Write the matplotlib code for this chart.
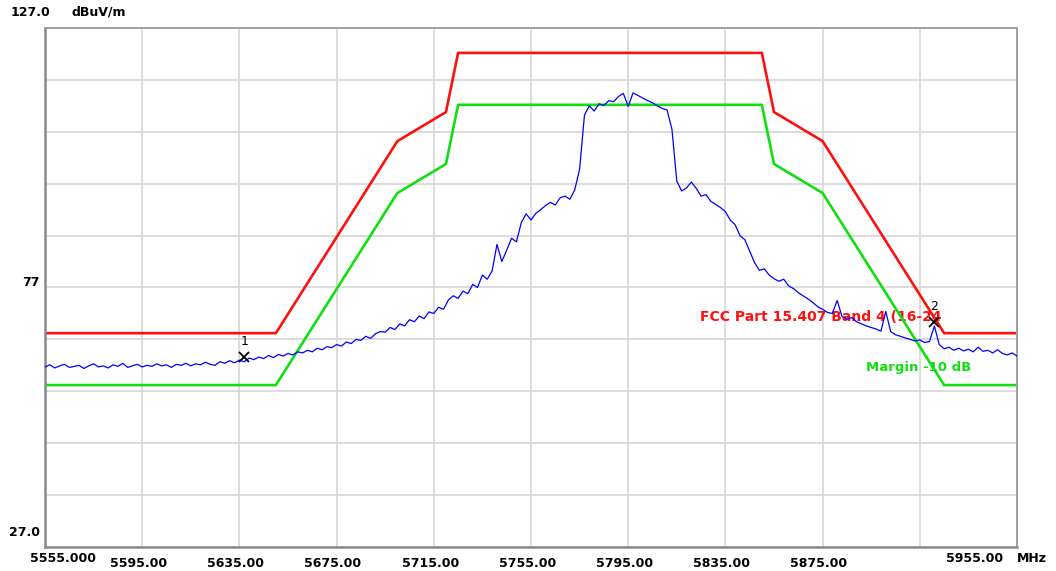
import numpy as np
import matplotlib
matplotlib.use('Agg')
import matplotlib.pyplot as plt

# trace sampled every 2 MHz
freq = np.arange(5555, 5956, 2)
level = [
    61.7, 62.1, 61.5, 61.9, 62.2, 61.6, 61.8, 62.0, 61.4, 61.9,
    62.3, 61.7, 61.9, 61.5, 62.1, 61.8, 62.4, 61.6, 61.9, 62.2,
    61.7, 62.0, 61.8, 62.3, 61.9, 62.1, 61.6, 62.2, 62.0, 62.4,
    61.9, 62.3, 62.1, 62.6, 62.2, 62.0, 62.7, 62.4, 62.9, 62.5,
    63.0, 62.7, 63.4, 63.1, 63.6, 63.3, 63.9, 63.5, 64.1, 63.8,
    64.3, 64.0, 64.6, 64.4, 64.9, 64.6, 65.3, 65.0, 65.6, 65.4,
    66.0, 65.7, 66.5, 66.2, 67.0, 66.8, 67.6, 67.2, 68.1, 68.5,
    68.4, 69.3, 68.9, 70.0, 69.6, 70.8, 70.4, 71.5, 71.0, 72.3,
    72.0, 73.2, 72.8, 74.6, 75.4, 74.9, 76.3, 75.8, 77.6, 77.0,
    79.4, 78.6, 80.2,
    85.3, 82.0, 84.2, 86.5, 85.8, 89.5, 91.2, 90.0, 91.3, 92.0,
    92.8, 93.4, 92.9, 94.3, 94.6, 94.0, 95.8,
    99.8, 110.2, 112.0, 111.0, 112.4, 112.1, 113.0, 112.8, 113.8, 114.4,
    111.9, 114.5, 114.0, 113.5, 113.0, 112.6, 112.0, 111.5, 111.2, 107.5,
    97.5, 95.6, 96.2, 97.3, 96.1, 94.6, 94.9, 93.6, 93.0, 92.4,
    91.6, 90.0, 89.1, 87.0, 86.2, 84.0, 81.8, 80.3, 80.6, 79.4,
    78.7, 78.2, 78.6, 77.3, 76.8, 76.0, 75.4, 74.8, 74.1, 73.3,
    72.8, 72.2, 72.0, 74.5, 71.4, 70.9, 71.2, 70.4, 70.0, 69.6,
    69.3, 69.0, 68.6, 72.4, 68.5, 67.9, 67.6, 67.3, 67.0, 66.7,
    66.9, 66.4, 66.6, 69.6, 66.0, 65.2, 65.5, 64.9, 65.3, 64.8,
    65.1, 64.6, 65.5, 64.7, 64.9, 64.4, 65.0, 64.3, 64.0, 64.4, 63.8,
]

limit_freq = [5555, 5650, 5700, 5720, 5725, 5850, 5855, 5875, 5925, 5955]
limit_level = [68.2, 68.2, 105.2, 110.8, 122.2, 122.2, 110.8, 105.2, 68.2, 68.2]
margin = 10.0

marker_freq = [5637, 5921]
marker_level = [63.6, 70.3]
marker_names = ['1', '2']

x_ticks = [5595, 5635, 5675, 5715, 5755, 5795, 5835, 5875]
x_labels = ['5595.00', '5635.00', '5675.00', '5715.00', '5755.00', '5795.00', '5835.00', '5875.00']

W, H = 1056, 571
fig = plt.figure(figsize=(W / 100, H / 100), dpi=100)
ax = fig.add_axes([45 / W, 1 - 547 / H, (1017 - 45) / W, (547 - 28) / H])

ax.set_xlim(5555, 5955)
ax.set_ylim(27, 127)
ax.set_xticks(np.arange(5555, 5956, 40))
ax.set_yticks(np.arange(27, 128, 10))
ax.set_xticklabels([])
ax.set_yticklabels([])
ax.tick_params(length=0)
ax.grid(color='#d6d6d6', lw=1.2)
ax.set_axisbelow(True)
for s in ax.spines.values():
    s.set_color('#a0a0a0')
    s.set_linewidth(1.4)
ax.spines['left'].set_color('#8a8a8a')
ax.spines['bottom'].set_color('#8a8a8a')
ax.spines['left'].set_linewidth(1.8)
ax.spines['bottom'].set_linewidth(1.8)

ax.plot(limit_freq, limit_level, color='#ff1010', lw=1.9, zorder=2)
ax.plot(limit_freq, np.array(limit_level) - margin, color='#10e010', lw=1.9, zorder=2)

ax.text(5924, 71.3, 'FCC Part 15.407 Band 4 (16-24', color='#ff1010', fontsize=10,
        fontweight='bold', ha='right', va='center', zorder=1)
ax.text(5936, 61.6, 'Margin -10 dB', color='#10e010', fontsize=9.5,
        fontweight='bold', ha='right', va='center', zorder=1)

ax.plot(freq, level, color='#0000ff', lw=0.9, zorder=3)

ax.plot(marker_freq, marker_level, 'x', color='black', ms=7, mew=1.3, zorder=4)
for f, l, n in zip(marker_freq, marker_level, marker_names):
    ax.text(f, l + 1.8, n, color='black', fontsize=9, ha='center', va='bottom', zorder=4)

# axis labels drawn as text, placed like the analyser screenshot
for t, lab in zip(x_ticks, x_labels):
    ax.text(t - 1.5, -0.02, lab, transform=ax.get_xaxis_transform(), fontsize=9,
            fontweight='bold', ha='center', va='top')
bold = dict(fontsize=9, fontweight='bold', transform=fig.transFigure)
fig.text(30 / W, 1 - 559 / H, '5555.000', ha='left', va='center', **bold)
fig.text(1003 / W, 1 - 559 / H, '5955.00', ha='right', va='center', **bold)
fig.text(1017 / W, 1 - 559 / H, 'MHz', ha='left', va='center', **bold)
fig.text(50 / W, 1 - 12 / H, '127.0', ha='right', va='center', **bold)
fig.text(72 / W, 1 - 12 / H, 'dBuV/m', ha='left', va='center', **bold)
fig.text(40 / W, 1 - 282 / H, '77', ha='right', va='center', **bold)
fig.text(40 / W, 1 - 532 / H, '27.0', ha='right', va='center', **bold)

fig.savefig('out.png', dpi=100)
